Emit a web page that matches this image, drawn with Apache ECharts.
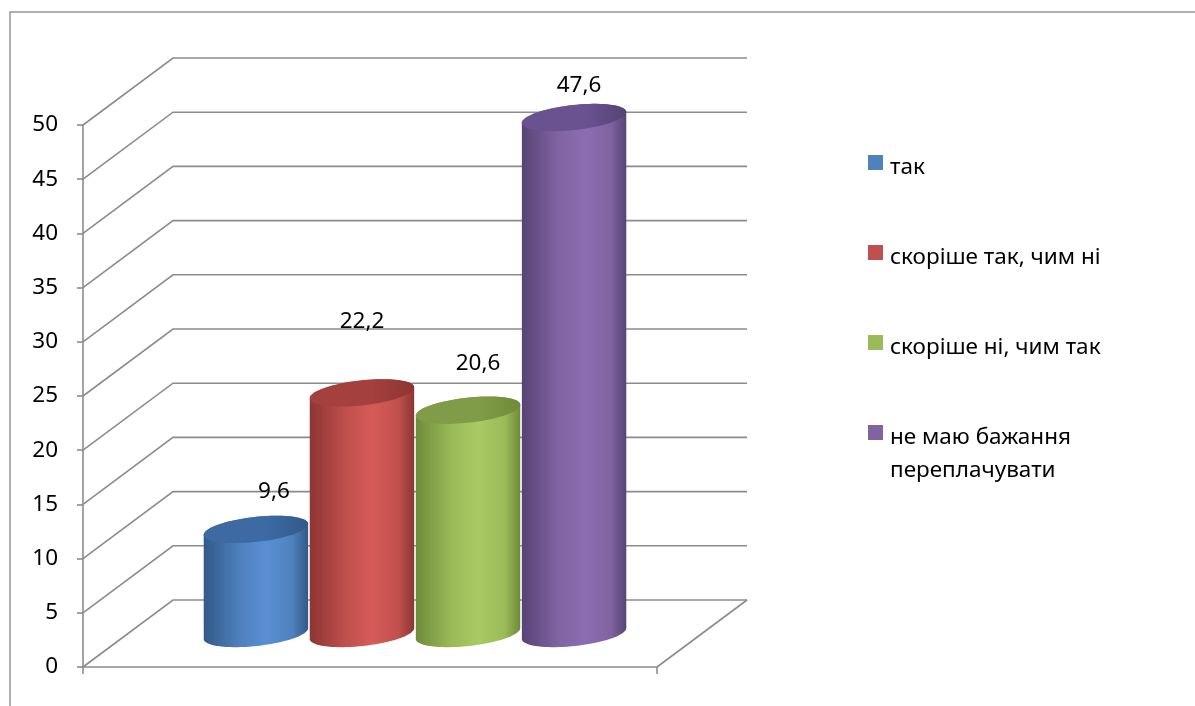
<!DOCTYPE html>
<html>
<head>
<meta charset="utf-8">
<script src="https://cdn.jsdelivr.net/npm/echarts@6/dist/echarts.min.js"></script>
<style>
html,body{margin:0;padding:0;background:#fff;}
#chart{width:1195px;height:706px;}
</style>
</head>
<body>
<div id="chart"></div>
<script>
// ---- data ----
const categories = ['так', 'скоріше так, чим ні', 'скоріше ні, чим так', 'не маю бажання\nпереплачувати'];
const values = [9.6, 22.2, 20.6, 47.6];
const yMin = 0;
const yMax = 50;
const yStep = 5;

// ---- styles ----
const FONT = 'Noto Sans';
const FS = 22.5;
const GRID_COLOR = '#8c8c8c';
const DEPTH_DX = 90;
const DEPTH_DY = -67;
const palette = [
  {base: '#4f81bd', dark: '#32598a', light: '#5890d4', top: '#3d6aa3'},
  {base: '#c0504d', dark: '#8e3533', light: '#d65b58', top: '#a4403d'},
  {base: '#9bbb59', dark: '#6f8b3a', light: '#a9c964', top: '#809c48'},
  {base: '#8064a2', dark: '#584375', light: '#8c6db2', top: '#6a5290'}
];
const labelNudge = [[18, 38], [0, 71], [10, 47], [5, 32]];

const yTicks = [];
for (let v = yMin; v <= yMax; v += yStep) yTicks.push(v);

function ellPt(cx, cy, rx, ry, rot, t) {
  return [
    cx + rx * Math.cos(t) * Math.cos(rot) - ry * Math.sin(t) * Math.sin(rot),
    cy + rx * Math.cos(t) * Math.sin(rot) + ry * Math.sin(t) * Math.cos(rot)
  ];
}

function renderWalls(params, api) {
  const cs = params.coordSys;
  const x0 = cs.x, x1 = cs.x + cs.width;
  const children = [];
  const ls = {stroke: GRID_COLOR, lineWidth: 1.6, fill: null};
  yTicks.forEach(function (v) {
    const y = api.coord([0, v])[1];
    children.push({
      type: 'polyline',
      shape: {points: [[x0, y], [x0 + DEPTH_DX, y + DEPTH_DY], [x1 + DEPTH_DX, y + DEPTH_DY]]},
      style: ls
    });
  });
  const yb = api.coord([0, yMin])[1];
  children.push({
    type: 'line',
    shape: {x1: x1, y1: yb, x2: x1 + DEPTH_DX, y2: yb + DEPTH_DY},
    style: ls
  });
  return {type: 'group', children: children};
}

function makeCylRender(i) {
  return function (params, api) {
    const n = categories.length;
    const v = api.value(1);
    const base = api.coord([0, yMin]);
    const topP = api.coord([0, v]);
    const band = api.size([1, 0])[0];
    const w = band * 0.739 / n;
    const cx = base[0] - (n / 2) * w + (i + 0.5) * w + DEPTH_DX / 2;
    const y0 = base[1] + DEPTH_DY / 2;
    const y1 = topP[1] + DEPTH_DY / 2;
    const rx = w / 2 - 0.5, ry = 12.5, rot = -0.11;
    const N = 40;
    const body = [];
    for (let k = 0; k <= N; k++) {
      const t = Math.PI - Math.PI * k / N;
      body.push(ellPt(cx, y0, rx, ry, rot, t));
    }
    for (let k = 0; k <= N; k++) {
      const t = -Math.PI * k / N;
      body.push(ellPt(cx, y1, rx, ry, rot, t));
    }
    const cap = [];
    for (let k = 0; k < 2 * N; k++) {
      cap.push(ellPt(cx, y1, rx, ry, rot, 2 * Math.PI * k / (2 * N)));
    }
    const c = palette[i];
    return {
      type: 'group',
      children: [
        {
          type: 'polygon',
          shape: {points: body},
          style: {
            fill: {
              type: 'linear', x: 0, y: 0, x2: 1, y2: 0,
              colorStops: [
                {offset: 0, color: c.dark},
                {offset: 0.35, color: c.base},
                {offset: 0.6, color: c.light},
                {offset: 0.85, color: c.base},
                {offset: 1, color: c.dark}
              ]
            }
          }
        },
        {
          type: 'polygon',
          shape: {points: cap},
          style: {
            fill: {
              type: 'linear', x: 0, y: 0, x2: 1, y2: 0,
              colorStops: [
                {offset: 0, color: c.top},
                {offset: 0.6, color: c.top},
                {offset: 1, color: c.dark}
              ]
            }
          }
        },
        {
          type: 'text',
          x: cx + labelNudge[i][0],
          y: y1 - labelNudge[i][1],
          style: {
            text: String(v).replace('.', ','),
            fontFamily: FONT, fontSize: FS, fill: '#000',
            align: 'center', verticalAlign: 'middle'
          }
        }
      ]
    };
  };
}

const series = [{
  type: 'custom',
  name: 'walls',
  renderItem: renderWalls,
  data: [[0, 0]],
  silent: true,
  z: 1
}];
categories.forEach(function (name, i) {
  series.push({
    type: 'custom',
    name: name,
    renderItem: makeCylRender(i),
    data: [[0, values[i]]],
    z: 2 + i
  });
});

const legendTop = [155, 245, 335, 425];
const graphics = [{
  type: 'rect',
  shape: {x: 10, y: 12, width: 1200, height: 720},
  style: {fill: null, stroke: '#959595', lineWidth: 1.5},
  silent: true
}];
categories.forEach(function (name, i) {
  graphics.push({
    type: 'rect',
    shape: {x: 868, y: legendTop[i], width: 15, height: 15},
    style: {fill: palette[i].base}
  });
  graphics.push({
    type: 'text',
    x: 890,
    y: legendTop[i] - 4,
    style: {
      text: name, fontFamily: FONT, fontSize: FS, fill: '#000',
      lineHeight: 33, align: 'left', verticalAlign: 'top'
    }
  });
});

const chart = echarts.init(document.getElementById('chart'), null, {renderer: 'canvas'});
chart.setOption({
  animation: false,
  backgroundColor: '#fff',
  grid: {left: 83, top: 125, width: 574, height: 542},
  xAxis: {
    type: 'category',
    data: [''],
    boundaryGap: true,
    axisLine: {show: true, lineStyle: {color: GRID_COLOR, width: 1.6}},
    axisTick: {show: true, length: 7, lineStyle: {color: GRID_COLOR, width: 1.6}},
    axisLabel: {show: false},
    splitLine: {show: false}
  },
  yAxis: {
    type: 'value',
    min: yMin, max: yMax, interval: yStep,
    axisLine: {show: true, lineStyle: {color: GRID_COLOR, width: 1.6}},
    axisTick: {show: true, length: 6, lineStyle: {color: GRID_COLOR, width: 1.6}},
    axisLabel: {margin: 25, fontFamily: FONT, fontSize: FS, color: '#000'},
    splitLine: {show: false}
  },
  graphic: graphics,
  series: series
});
</script>
</body>
</html>
